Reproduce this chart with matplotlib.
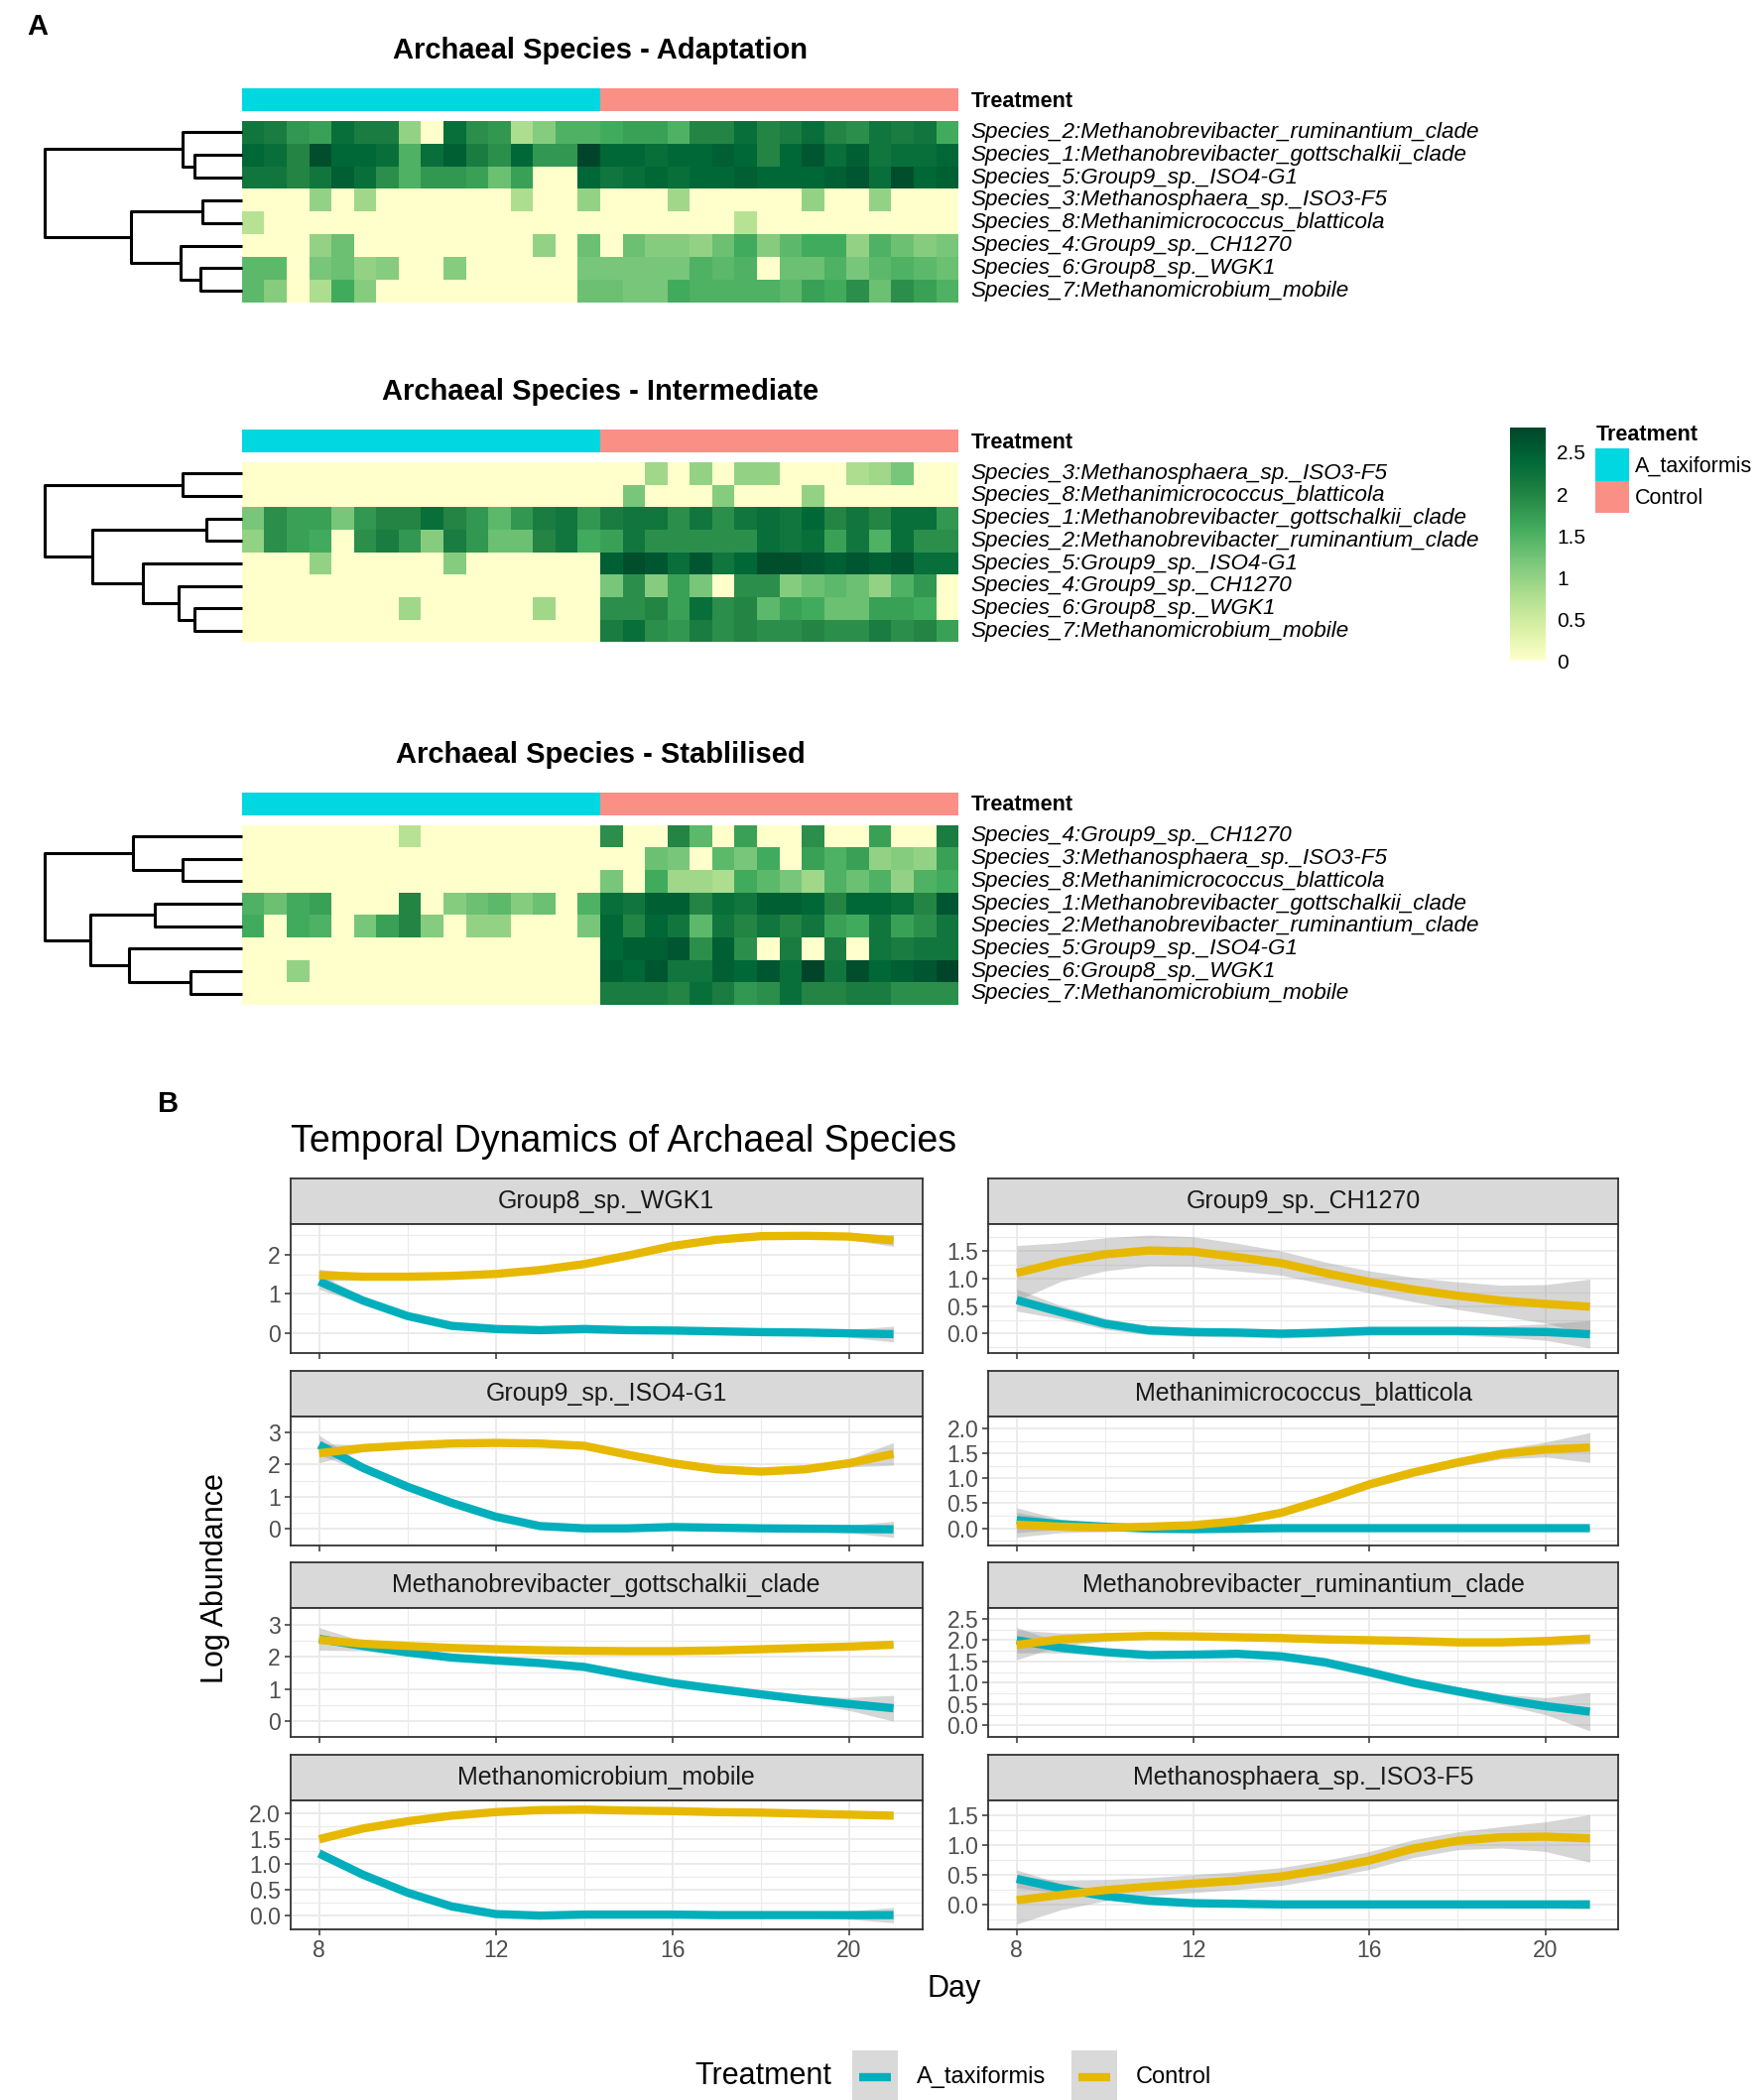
import numpy as np
import matplotlib
matplotlib.use("Agg")
import matplotlib.pyplot as plt
from matplotlib.colors import LinearSegmentedColormap, ListedColormap
from matplotlib.patches import Rectangle
from matplotlib.lines import Line2D

plt.rcParams['font.family'] = ['Liberation Sans', 'DejaVu Sans']

# ---------------- heatmap data (8 species x 32 samples, 16 A_taxiformis + 16 Control)
rows_adapt = [
    "Species_2:Methanobrevibacter_ruminantium_clade",
    "Species_1:Methanobrevibacter_gottschalkii_clade",
    "Species_5:Group9_sp._ISO4-G1",
    "Species_3:Methanosphaera_sp._ISO3-F5",
    "Species_8:Methanimicrococcus_blatticola",
    "Species_4:Group9_sp._CH1270",
    "Species_6:Group8_sp._WGK1",
    "Species_7:Methanomicrobium_mobile",
]
vals_adapt = [
    [2.2,2.1,1.8,1.7,2.3,2.1,2.1,1.0,0,2.3,1.9,1.8,0.8,1.1,1.5,1.5, 1.6,1.7,1.7,1.5,2.0,2.0,2.3,2.0,2.1,2.3,2.0,1.9,2.2,2.1,2.2,1.6],
    [2.4,2.3,2.0,2.7,2.4,2.4,2.3,1.5,2.3,2.5,2.1,1.9,2.4,1.8,1.8,2.8, 2.4,2.4,2.3,2.4,2.4,2.5,2.4,2.0,2.4,2.6,2.3,2.5,2.2,2.3,2.3,2.4],
    [2.2,2.2,2.0,2.2,2.5,2.3,1.9,1.5,1.8,1.8,1.7,1.3,1.7,0,0,2.4, 2.2,2.3,2.4,2.3,2.4,2.4,2.5,2.4,2.4,2.4,2.5,2.6,2.3,2.7,2.4,2.5],
    [0,0,0,1.0,0,0.9,0,0,0,0,0,0,0.8,0,0,1.0, 0,0,0,0.9,0,0,0,0,0,1.0,0,0,1.0,0,0,0],
    [0.7,0,0,0,0,0,0,0,0,0,0,0,0,0,0,0, 0,0,0,0,0,0,0.7,0,0,0,0,0,0,0,0,0],
    [0,0,0,1.0,1.3,0,0,0,0,0,0,0,0,1.0,0,1.3, 0,1.3,1.1,1.1,1.0,1.3,1.6,1.1,1.4,1.6,1.6,1.0,1.5,1.3,1.1,1.2],
    [1.4,1.4,0,1.2,1.3,1.0,1.1,0,0,1.1,0,0,0,0,0,1.2, 1.2,1.2,1.2,1.2,1.5,1.4,1.5,0,1.3,1.3,1.5,1.2,1.4,1.5,1.4,1.3],
    [1.4,1.1,0,0.8,1.6,1.1,0,0,0,0,0,0,0,0,0,1.3, 1.3,1.2,1.2,1.6,1.5,1.5,1.5,1.5,1.4,1.7,1.6,1.9,1.3,1.9,1.7,1.5],
]
merges_adapt = [(1, 2, 0.24), (0, 8, 0.30), (3, 4, 0.20), (6, 7, 0.21),
                (5, 11, 0.31), (10, 12, 0.56), (9, 13, 1.0)]

rows_inter = [
    "Species_3:Methanosphaera_sp._ISO3-F5",
    "Species_8:Methanimicrococcus_blatticola",
    "Species_1:Methanobrevibacter_gottschalkii_clade",
    "Species_2:Methanobrevibacter_ruminantium_clade",
    "Species_5:Group9_sp._ISO4-G1",
    "Species_4:Group9_sp._CH1270",
    "Species_6:Group8_sp._WGK1",
    "Species_7:Methanomicrobium_mobile",
]
vals_inter = [
    [0]*16 + [0,0,0.9,0,1.0,0,1.0,1.0,0,0,0,0.8,0.9,1.2,0,0],
    [0]*16 + [0,1.2,0,0,0,1.1,0,0,0,1.0,0,0,0,0,0,0],
    [1.2,1.9,1.7,1.7,1.2,1.8,2.0,2.0,2.3,2.0,1.8,1.4,1.8,2.1,2.2,1.8, 2.1,2.2,2.2,1.9,2.2,1.9,2.2,2.3,2.2,2.4,2.0,2.2,2.0,2.3,2.3,1.8],
    [1.0,1.9,1.7,1.6,0,1.9,2.1,1.8,1.1,2.1,1.8,1.3,1.3,2.0,2.2,1.6, 1.7,2.2,1.9,1.9,1.9,1.9,1.9,2.3,2.2,2.3,1.7,2.2,1.5,2.3,1.9,1.9],
    [0,0,0,1.0,0,0,0,0,0,1.1,0,0,0,0,0,0, 2.5,2.7,2.6,2.3,2.6,2.2,2.4,2.7,2.7,2.6,2.5,2.6,2.5,2.6,2.3,2.3],
    [0]*16 + [1.2,1.9,1.1,1.7,1.2,0,1.9,1.9,1.1,1.3,1.4,1.3,1.0,1.5,1.8,0],
    [0,0,0,0,0,0,0,0.9,0,0,0,0,0,0.9,0,0, 1.9,1.9,2.0,1.7,2.3,1.9,2.0,1.4,1.7,1.6,1.3,1.3,1.7,1.7,1.6,0],
    [0]*16 + [2.1,2.3,1.9,1.8,2.1,1.9,2.0,1.9,1.9,2.0,1.9,1.9,2.1,1.9,2.0,1.7],
]
merges_inter = [(0, 1, 0.30), (2, 3, 0.18), (6, 7, 0.24), (5, 10, 0.32),
                (4, 11, 0.50), (9, 12, 0.76), (8, 13, 1.0)]

rows_stab = [
    "Species_4:Group9_sp._CH1270",
    "Species_3:Methanosphaera_sp._ISO3-F5",
    "Species_8:Methanimicrococcus_blatticola",
    "Species_1:Methanobrevibacter_gottschalkii_clade",
    "Species_2:Methanobrevibacter_ruminantium_clade",
    "Species_5:Group9_sp._ISO4-G1",
    "Species_6:Group8_sp._WGK1",
    "Species_7:Methanomicrobium_mobile",
]
vals_stab = [
    [0,0,0,0,0,0,0,0.7,0,0,0,0,0,0,0,0, 1.9,0,0,2.0,1.4,0,1.7,0,0,1.9,0,0,1.7,0,0,2.1],
    [0]*16 + [0,0,1.3,1.2,0,1.4,1.2,1.6,0,1.7,1.5,1.7,1.0,1.1,1.0,1.7],
    [0]*16 + [1.2,0,1.6,0.9,0.9,0.8,1.6,1.4,1.2,0.9,1.5,1.3,1.5,1.0,1.5,1.6],
    [1.5,1.3,1.6,1.7,0,0,0,2.0,0,1.1,1.3,1.4,1.1,1.3,0,1.5, 2.3,2.2,2.5,2.5,2.0,2.3,2.2,2.5,2.5,2.4,2.0,2.4,2.4,2.3,2.0,2.6],
    [1.6,0,1.6,1.5,0,1.2,1.7,2.0,1.1,0,1.0,1.0,0,0,0,1.2, 2.4,2.0,2.4,2.2,1.4,2.2,2.0,2.2,2.0,2.2,1.7,1.6,2.2,1.7,1.9,2.2],
    [0]*16 + [2.4,2.5,2.5,2.6,1.9,2.5,1.9,0,2.1,0,2.1,0,2.2,2.1,2.2,2.2],
    [0,0,1.0,0,0,0,0,0,0,0,0,0,0,0,0,0, 2.5,2.4,2.6,2.2,2.2,2.5,2.4,2.6,2.3,2.8,2.2,2.7,2.4,2.5,2.6,2.8],
    [0]*16 + [2.1,2.1,2.1,2.0,2.3,2.1,1.8,1.9,2.3,2.0,2.0,2.1,2.1,1.9,1.9,1.9],
]
merges_stab = [(1, 2, 0.30), (0, 8, 0.55), (3, 4, 0.44), (6, 7, 0.26),
               (5, 11, 0.57), (10, 12, 0.77), (9, 13, 1.0)]

treat_groups = ["A_taxiformis"] * 16 + ["Control"] * 16

# ---------------- smoothed trends, days 8..21
days = np.arange(8, 22)
facets = ["Group8_sp._WGK1", "Group9_sp._CH1270",
          "Group9_sp._ISO4-G1", "Methanimicrococcus_blatticola",
          "Methanobrevibacter_gottschalkii_clade", "Methanobrevibacter_ruminantium_clade",
          "Methanomicrobium_mobile", "Methanosphaera_sp._ISO3-F5"]

tax_fit = {
    "Group8_sp._WGK1": [1.32,0.83,0.44,0.19,0.11,0.08,0.11,0.08,0.07,0.05,0.03,0.02,0.0,-0.02],
    "Group9_sp._CH1270": [0.61,0.39,0.18,0.06,0.03,0.02,0.0,0.02,0.05,0.05,0.05,0.04,0.03,-0.01],
    "Group9_sp._ISO4-G1": [2.61,1.89,1.31,0.81,0.38,0.09,0.02,0.02,0.06,0.04,0.02,0.01,0.0,-0.01],
    "Methanimicrococcus_blatticola": [0.16,0.08,0.03,-0.01,-0.02,-0.01,0,0,0,0,0,0,0,0],
    "Methanobrevibacter_gottschalkii_clade": [2.55,2.33,2.13,1.97,1.88,1.80,1.68,1.42,1.18,1.00,0.83,0.67,0.53,0.40],
    "Methanobrevibacter_ruminantium_clade": [2.0,1.82,1.72,1.65,1.66,1.68,1.62,1.48,1.25,1.0,0.80,0.61,0.45,0.32],
    "Methanomicrobium_mobile": [1.21,0.79,0.44,0.17,0.02,-0.01,0.01,0.01,0.01,0.0,0.0,0.0,0.0,0.0],
    "Methanosphaera_sp._ISO3-F5": [0.43,0.27,0.14,0.06,0.02,0.01,0,0,0,0,0,0,0,0],
}
ctrl_fit = {
    "Group8_sp._WGK1": [1.48,1.44,1.44,1.46,1.51,1.61,1.76,1.98,2.22,2.38,2.47,2.48,2.46,2.36],
    "Group9_sp._CH1270": [1.10,1.30,1.44,1.51,1.49,1.39,1.28,1.10,0.94,0.80,0.69,0.60,0.54,0.49],
    "Group9_sp._ISO4-G1": [2.35,2.51,2.59,2.65,2.67,2.65,2.58,2.30,2.04,1.85,1.78,1.85,2.04,2.33],
    "Methanimicrococcus_blatticola": [0.07,0.03,0.01,0.03,0.06,0.14,0.31,0.58,0.88,1.12,1.32,1.49,1.58,1.62],
    "Methanobrevibacter_gottschalkii_clade": [2.52,2.40,2.33,2.27,2.23,2.20,2.18,2.17,2.17,2.19,2.23,2.27,2.31,2.37],
    "Methanobrevibacter_ruminantium_clade": [1.89,2.02,2.07,2.10,2.09,2.07,2.05,2.02,2.0,1.98,1.95,1.95,1.98,2.03],
    "Methanomicrobium_mobile": [1.49,1.70,1.84,1.95,2.02,2.06,2.07,2.05,2.04,2.02,2.01,1.99,1.97,1.95],
    "Methanosphaera_sp._ISO3-F5": [0.07,0.16,0.24,0.30,0.35,0.40,0.47,0.59,0.74,0.94,1.07,1.13,1.14,1.11],
}
tax_se = {
    "Group8_sp._WGK1": [0.2,0.08,0.06,0.05,0.05,0.05,0.05,0.05,0.05,0.05,0.06,0.07,0.1,0.2],
    "Group9_sp._CH1270": [0.2,0.12,0.1,0.08,0.08,0.08,0.08,0.08,0.08,0.08,0.08,0.1,0.15,0.25],
    "Group9_sp._ISO4-G1": [0.3,0.12,0.08,0.07,0.07,0.07,0.07,0.07,0.07,0.07,0.07,0.08,0.12,0.25],
    "Methanimicrococcus_blatticola": [0.25,0.1,0.06,0.04,0.04,0.03,0.03,0.03,0.03,0.03,0.03,0.03,0.03,0.04],
    "Methanobrevibacter_gottschalkii_clade": [0.35,0.15,0.1,0.08,0.08,0.08,0.1,0.1,0.1,0.1,0.1,0.12,0.2,0.4],
    "Methanobrevibacter_ruminantium_clade": [0.3,0.12,0.08,0.08,0.08,0.08,0.08,0.1,0.1,0.1,0.1,0.12,0.2,0.45],
    "Methanomicrobium_mobile": [0.1,0.06,0.05,0.04,0.04,0.04,0.04,0.04,0.04,0.04,0.04,0.05,0.08,0.15],
    "Methanosphaera_sp._ISO3-F5": [0.15,0.08,0.06,0.05,0.04,0.04,0.04,0.04,0.04,0.04,0.04,0.05,0.06,0.08],
}
ctrl_se = {
    "Group8_sp._WGK1": [0.15,0.08,0.06,0.06,0.06,0.06,0.06,0.06,0.06,0.06,0.06,0.07,0.08,0.15],
    "Group9_sp._CH1270": [0.5,0.35,0.3,0.28,0.27,0.25,0.22,0.2,0.2,0.22,0.25,0.28,0.35,0.5],
    "Group9_sp._ISO4-G1": [0.3,0.1,0.08,0.07,0.07,0.07,0.08,0.08,0.08,0.08,0.08,0.08,0.12,0.35],
    "Methanimicrococcus_blatticola": [0.25,0.12,0.08,0.07,0.07,0.07,0.07,0.08,0.08,0.08,0.08,0.1,0.15,0.3],
    "Methanobrevibacter_gottschalkii_clade": [0.1,0.05,0.04,0.04,0.04,0.04,0.04,0.04,0.04,0.04,0.04,0.04,0.05,0.08],
    "Methanobrevibacter_ruminantium_clade": [0.35,0.15,0.1,0.08,0.08,0.08,0.08,0.08,0.08,0.08,0.08,0.08,0.1,0.12],
    "Methanomicrobium_mobile": [0.08,0.05,0.04,0.04,0.04,0.04,0.04,0.04,0.04,0.04,0.04,0.04,0.05,0.06],
    "Methanosphaera_sp._ISO3-F5": [0.4,0.25,0.18,0.15,0.15,0.15,0.15,0.15,0.15,0.15,0.15,0.18,0.25,0.4],
}
ylims = {
    "Group8_sp._WGK1": (-0.42, 2.78),
    "Group9_sp._CH1270": (-0.35, 1.99),
    "Group9_sp._ISO4-G1": (-0.44, 3.05),
    "Methanimicrococcus_blatticola": (-0.34, 2.02),
    "Methanobrevibacter_gottschalkii_clade": (-0.12, 3.10),
    "Methanobrevibacter_ruminantium_clade": (-0.28, 2.61),
    "Methanomicrobium_mobile": (-0.28, 2.25),
    "Methanosphaera_sp._ISO3-F5": (-0.42, 1.62),
}
yticks = {
    "Group8_sp._WGK1": ([0, 1, 2], ["0", "1", "2"]),
    "Group9_sp._CH1270": ([0, 0.5, 1, 1.5], ["0.0", "0.5", "1.0", "1.5"]),
    "Group9_sp._ISO4-G1": ([0, 1, 2, 3], ["0", "1", "2", "3"]),
    "Methanimicrococcus_blatticola": ([0, 0.5, 1, 1.5, 2], ["0.0", "0.5", "1.0", "1.5", "2.0"]),
    "Methanobrevibacter_gottschalkii_clade": ([0, 1, 2, 3], ["0", "1", "2", "3"]),
    "Methanobrevibacter_ruminantium_clade": ([0, 0.5, 1, 1.5, 2, 2.5], ["0.0", "0.5", "1.0", "1.5", "2.0", "2.5"]),
    "Methanomicrobium_mobile": ([0, 0.5, 1, 1.5, 2], ["0.0", "0.5", "1.0", "1.5", "2.0"]),
    "Methanosphaera_sp._ISO3-F5": ([0, 0.5, 1, 1.5], ["0.0", "0.5", "1.0", "1.5"]),
}

# ---------------- layout helpers (reference-frame units 1310 x 1563)
W, H = 1310.0, 1563.0
fig = plt.figure(figsize=(17.75, 21.17), dpi=100)


def rect(x0, y0, x1, y1):
    return [x0 / W, 1 - y1 / H, (x1 - x0) / W, (y1 - y0) / H]


ov = fig.add_axes([0, 0, 1, 1])
ov.set_xlim(0, W)
ov.set_ylim(H, 0)
ov.axis("off")

cmap = LinearSegmentedColormap.from_list(
    "ylgn", ["#FFFFCC", "#D9F0A3", "#ADDD8E", "#78C679", "#41AB5D", "#238443", "#006837", "#004529"])
CYAN, SALMON = "#00D7E0", "#FA8F86"
treat_cmap = ListedColormap([CYAN, SALMON])


def draw_dendro(ax, merges, n=8):
    pos = {i: (0.0, i + 0.5) for i in range(n)}
    k = n
    for a, b, h in merges:
        ha, ya = pos[a]
        hb, yb = pos[b]
        ax.plot([ha, h, h, hb], [ya, ya, yb, yb], color="black", lw=2.2,
                solid_capstyle="butt", clip_on=False)
        pos[k] = (h, (ya + yb) / 2)
        k += 1
    ax.set_xlim(1.0, 0)
    ax.set_ylim(n, 0)
    ax.axis("off")


heatmaps = [
    ("Archaeal Species - Adaptation", 38, (66, 83), (90, 225), rows_adapt, vals_adapt, merges_adapt),
    ("Archaeal Species - Intermediate", 292, (320, 337), (344, 478), rows_inter, vals_inter, merges_inter),
    ("Archaeal Species - Stablilised", 562, (590, 607), (614, 748), rows_stab, vals_stab, merges_stab),
]
codes = np.array([[0 if t == "A_taxiformis" else 1 for t in treat_groups]])
x_l, x_r = 180, 713
for title, ty, (b0, b1), (r0, r1), names, vals, merges in heatmaps:
    ov.text((x_l + x_r) / 2, ty, title, ha="center", va="center", fontsize=21, fontweight="bold")
    axb = fig.add_axes(rect(x_l, b0, x_r, b1))
    axb.pcolormesh(codes, cmap=treat_cmap, vmin=0, vmax=1)
    axb.axis("off")
    ov.text(722, (b0 + b1) / 2 + 1, "Treatment", ha="left", va="center", fontsize=15.5, fontweight="bold")
    axh = fig.add_axes(rect(x_l, r0, x_r, r1))
    axh.pcolormesh(np.array(vals), cmap=cmap, vmin=0, vmax=2.8)
    axh.set_ylim(8, 0)
    axh.axis("off")
    rh = (r1 - r0) / 8
    for i, nm in enumerate(names):
        ov.text(722, r0 + rh * (i + 0.5), nm, ha="left", va="center", fontsize=16.2, style="italic")
    axd = fig.add_axes(rect(33, r0, 180, r1))
    draw_dendro(axd, merges)

# colour key
cax = fig.add_axes(rect(1123, 318, 1150, 492))
grad = np.linspace(0, 2.8, 256).reshape(-1, 1)
cax.pcolormesh([0, 1], np.linspace(0, 2.8, 257), grad, cmap=cmap, vmin=0, vmax=2.8)
cax.set_ylim(0, 2.8)
cax.set_xticks([])
cax.yaxis.tick_right()
cax.set_yticks([0, 0.5, 1, 1.5, 2, 2.5])
cax.set_yticklabels(["0", "0.5", "1", "1.5", "2", "2.5"], fontsize=15)
cax.tick_params(axis="y", length=0, pad=8)
for s in cax.spines.values():
    s.set_visible(False)

ov.text(1187, 324, "Treatment", ha="left", va="center", fontsize=15.5, fontweight="bold")
ov.add_patch(Rectangle((1187, 334), 25, 24, facecolor=CYAN, edgecolor="none"))
ov.add_patch(Rectangle((1187, 358), 25, 24, facecolor=SALMON, edgecolor="none"))
ov.text(1216, 347, "A_taxiformis", ha="left", va="center", fontsize=15.5)
ov.text(1216, 371, "Control", ha="left", va="center", fontsize=15.5)

# ---------------- panel B: facetted trends
ov.text(20, 20, "A", ha="left", va="center", fontsize=21, fontweight="bold")
ov.text(117, 822, "B", ha="left", va="center", fontsize=21, fontweight="bold")
ov.text(216, 850, "Temporal Dynamics of Archaeal Species", ha="left", va="center", fontsize=27)

TAX_COL, CTRL_COL = "#00AFBB", "#E7B800"
col_x = [(216, 686), (735, 1204)]
row_y = [(877, 911, 1007), (1020, 1054, 1150), (1163, 1197, 1293), (1306, 1340, 1436)]
GRID = "#EBEBEB"
DARK = "#333333"

for idx, name in enumerate(facets):
    r, c = divmod(idx, 2)
    xa, xb = col_x[c]
    s0, p0, p1 = row_y[r]
    axs = fig.add_axes(rect(xa, s0, xb, p0))
    axs.set_facecolor("#D9D9D9")
    axs.set_xticks([])
    axs.set_yticks([])
    for s in axs.spines.values():
        s.set_color(DARK)
        s.set_linewidth(1.3)
    axs.text(0.5, 0.5, name, transform=axs.transAxes, ha="center", va="center",
             fontsize=18, color="#1A1A1A")

    ax = fig.add_axes(rect(xa, p0, xb, p1))
    ax.set_xlim(7.35, 21.65)
    ax.set_ylim(*ylims[name])
    tk, tl = yticks[name]
    ax.set_yticks(tk)
    ax.set_yticklabels(tl, fontsize=16.5, color="#4D4D4D")
    step = tk[1] - tk[0]
    ax.set_yticks([t + step / 2 for t in tk[:-1]] + [tk[0] - step / 2, tk[-1] + step / 2], minor=True)
    ax.set_xticks([8, 12, 16, 20])
    ax.set_xticks([10, 14, 18], minor=True)
    ax.grid(which="major", color=GRID, lw=1.4, zorder=0)
    ax.grid(which="minor", color=GRID, lw=0.8, zorder=0)
    ax.set_axisbelow(True)
    ax.tick_params(axis="both", which="major", color=DARK, length=4, width=1.1, pad=3)
    ax.tick_params(axis="both", which="minor", length=0)
    if r == 3:
        ax.set_xticklabels(["8", "12", "16", "20"], fontsize=16.5, color="#4D4D4D")
    else:
        ax.tick_params(axis="x", labelbottom=False)
    for s in ax.spines.values():
        s.set_color(DARK)
        s.set_linewidth(1.3)

    for fit, se in [(tax_fit, tax_se), (ctrl_fit, ctrl_se)]:
        y = np.array(fit[name])
        e = np.array(se[name])
        ax.fill_between(days, y - e, y + e, color="#999999", alpha=0.4, lw=0, zorder=2)
    for fit, col in [(tax_fit, TAX_COL), (ctrl_fit, CTRL_COL)]:
        ax.plot(days, fit[name], color=col, lw=6, solid_capstyle="butt",
                solid_joinstyle="round", zorder=3)

ov.text(710, 1480, "Day", ha="center", va="center", fontsize=22)
ov.text(160, 1175, "Log Abundance", ha="center", va="center", fontsize=22, rotation=90)

# legend
ov.text(517, 1545, "Treatment", ha="left", va="center", fontsize=22)
for kx, lab, col in [(634, "A_taxiformis", TAX_COL), (797, "Control", CTRL_COL)]:
    ov.add_patch(Rectangle((kx, 1526), 34, 40, facecolor="#D9D9D9", edgecolor="none"))
    ov.add_line(Line2D([kx + 5, kx + 29], [1546, 1546], color=col, lw=6, solid_capstyle="butt"))
    ov.text(kx + 48, 1546, lab, ha="left", va="center", fontsize=17)

fig.savefig("out.png", dpi=100)
